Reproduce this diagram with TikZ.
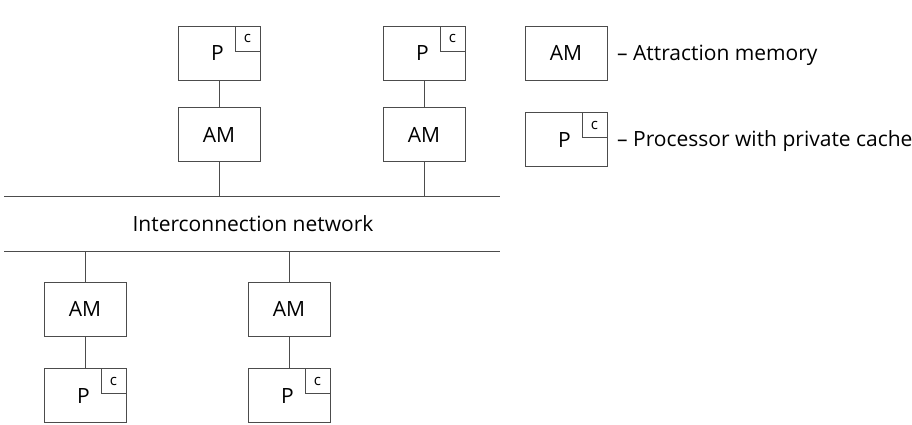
\documentclass[tikz,border=0pt]{standalone}
\usepackage{fontspec}
\setmainfont{Open Sans}
\usepackage{tikz}
\usetikzlibrary{positioning}

\begin{document}
\begin{tikzpicture}[x=1pt,y=-1pt,every node/.style={font=\fontsize{21}{24}\selectfont}]
  \tikzset{unit/.style={draw=black!70,line width=0.8pt,minimum width=82pt,minimum height=54pt,inner sep=0pt},
           cache/.style={draw=black!70,line width=0.8pt,minimum size=25pt,inner sep=0pt,anchor=north east,
                         font=\fontsize{15}{17}\selectfont},
           wire/.style={draw=black!70,line width=0.7pt}}
  \useasboundingbox (0,0) rectangle (912,425);
  % top processors
  \node[unit] (p1) at (219,53) {\hspace*{-3pt}P};
  \node[unit] (p2) at (424,53) {\hspace*{-3pt}P};
  \node[unit,below=27pt of p1] (am1) {AM};
  \node[unit,below=27pt of p2] (am2) {AM};
  % bottom processors
  \node[unit] (am3) at (85,309) {AM};
  \node[unit] (am4) at (289,309) {AM};
  \node[unit,below=32pt of am3] (p3) {\hspace*{-3pt}P};
  \node[unit,below=32pt of am4] (p4) {\hspace*{-3pt}P};
  \foreach \p in {p1,p2,p3,p4}
    \node[cache] (c-\p) at (\p.north east) {c};
  % legend
  \node[unit] (lam) at (566,53) {AM};
  \node[unit,below=32pt of lam] (lp) {\hspace*{-3pt}P};
  \node[cache] (c-lp) at (lp.north east) {c};
  \node[anchor=west,inner sep=0pt] (tam) at (617,55) {– Attraction memory};
  \node[anchor=west,inner sep=0pt] (tp) at (617,141) {– Processor with private cache};
  % interconnection network
  \coordinate (n1w) at (4,196);
  \coordinate (n1e) at (500,196);
  \coordinate (n2w) at (4,251);
  \coordinate (n2e) at (500,251);
  \draw[wire] (n1w) -- (n1e);
  \draw[wire] (n2w) -- (n2e);
  \node (net) at (253,224) {Interconnection network};
  % links
  \draw[wire] (p1) -- (am1); \draw[wire] (p2) -- (am2);
  \draw[wire] (am3) -- (p3); \draw[wire] (am4) -- (p4);
  \draw[wire] (am1) -- (am1 |- n1w); \draw[wire] (am2) -- (am2 |- n1w);
  \draw[wire] (am3) -- (am3 |- n2w); \draw[wire] (am4) -- (am4 |- n2w);
\end{tikzpicture}
\end{document}
